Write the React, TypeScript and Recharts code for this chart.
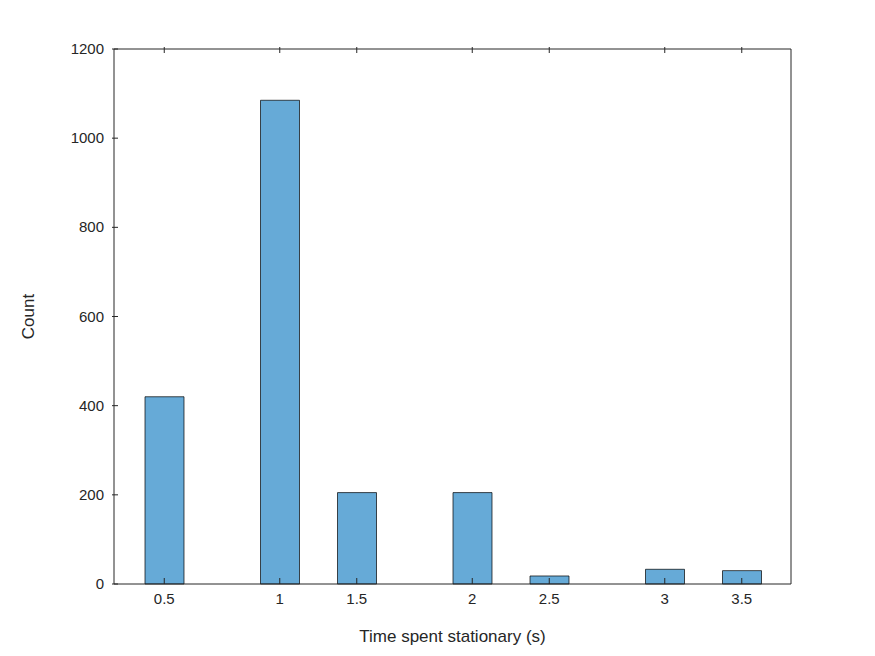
import React from "react"
import { BarChart, Bar, XAxis, YAxis, Label } from "recharts"

const bins = ["0.5", "b1", "b2", "1", "b4", "1.5", "b6", "b7", "2", "b9", "2.5", "b11", "b12", "3", "b14", "3.5"]
const counts = [420, 0, 0, 1085, 0, 205, 0, 0, 205, 0, 18, 0, 0, 33, 0, 30]
const yTicks = [0, 200, 400, 600, 800, 1000, 1200]

const data = bins.map((bin, i) => ({ bin, count: counts[i] }))
const ink = "#262626"
const font = "Liberation Sans, Arial, sans-serif"

const labelled = (v: string) => !v.startsWith("b")

const BottomTick = ({ x, y, payload }: any) =>
  labelled(payload.value) ? (
    <g>
      <line x1={x} x2={x} y1={y} y2={y - 6} stroke={ink} />
      <text x={x} y={y + 20} textAnchor="middle" fill={ink} fontSize={15} fontFamily={font}>
        {payload.value}
      </text>
    </g>
  ) : <g />

const TopTick = ({ x, y, payload }: any) =>
  labelled(payload.value) ? <line x1={x} x2={x} y1={y} y2={y + 6} stroke={ink} /> : <g />

const LeftTick = ({ x, y, payload }: any) => (
  <g>
    <line x1={x} x2={x + 6} y1={y} y2={y} stroke={ink} />
    <text x={x - 8} y={y + 5} textAnchor="end" fill={ink} fontSize={15} fontFamily={font}>
      {payload.value}
    </text>
  </g>
)

const RightTick = ({ x, y }: any) => <line x1={x} x2={x - 6} y1={y} y2={y} stroke={ink} />

export default function App() {
  return (
    <div style={{ margin: -8, background: "#fff", width: 875, height: 656 }}>
      <BarChart width={875} height={656} data={data} barCategoryGap={0}
        margin={{ top: 0, right: 0, left: 0, bottom: 0 }}>
        <XAxis dataKey="bin" interval={0} height={72} padding={{ left: 31, right: 30 }}
          stroke={ink} tickSize={0} tickMargin={0} tickLine={false} tick={<BottomTick />}>
          <Label value="Time spent stationary (s)" position="insideBottom" offset={14}
            fill={ink} fontSize={17} fontFamily={font} />
        </XAxis>
        <XAxis xAxisId="t" dataKey="bin" orientation="top" interval={0} height={49}
          padding={{ left: 31, right: 30 }} stroke={ink} tickSize={0} tickLine={false} tick={<TopTick />} />
        <YAxis domain={[0, 1200]} ticks={yTicks} width={114} stroke={ink} tickSize={0}
          tickLine={false} tick={<LeftTick />}>
          <Label value="Count" angle={-90} position="insideLeft" offset={28}
            fill={ink} fontSize={17} fontFamily={font} style={{ textAnchor: "middle" }} />
        </YAxis>
        <YAxis yAxisId="r" orientation="right" domain={[0, 1200]} ticks={yTicks} width={84}
          stroke={ink} tickSize={0} tickLine={false} tick={<RightTick />} />
        <Bar dataKey="count" fill="#66aad7" stroke="#000" strokeWidth={0.7} isAnimationActive={false} />
      </BarChart>
    </div>
  )
}
